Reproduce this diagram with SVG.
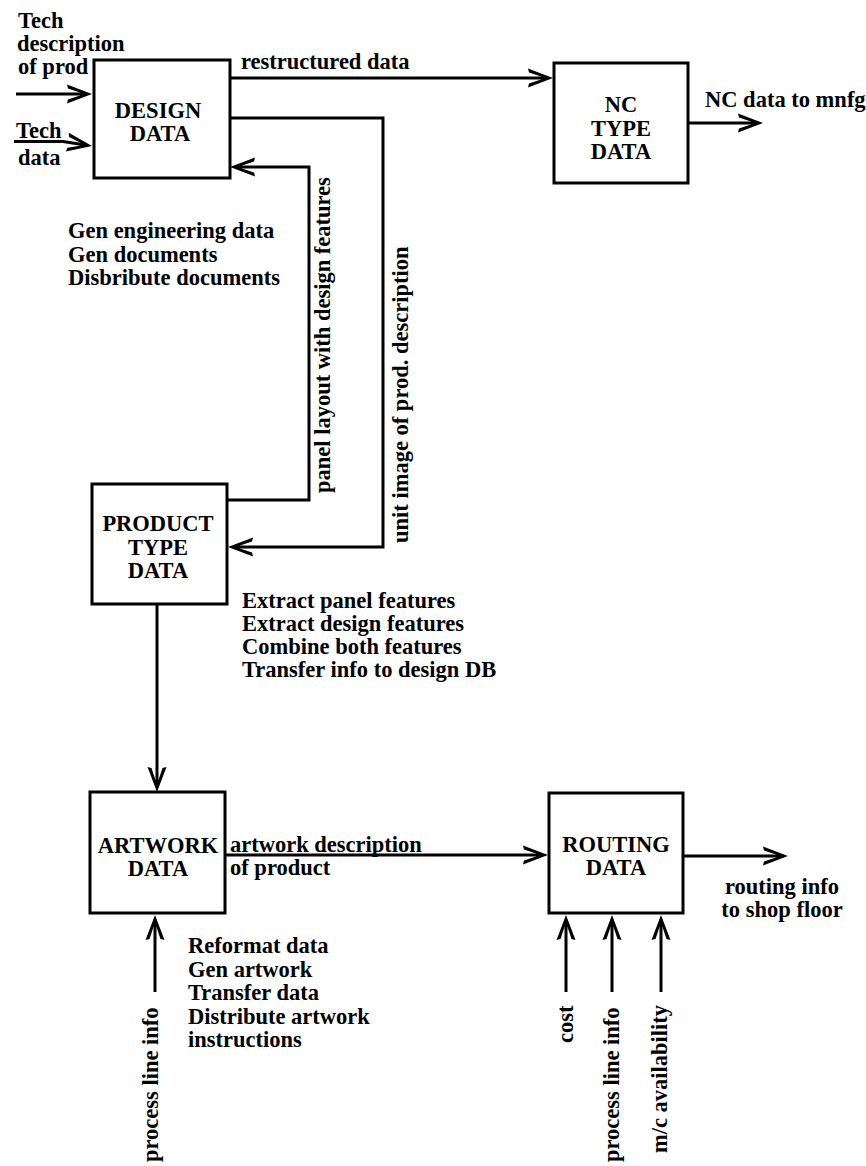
<svg xmlns="http://www.w3.org/2000/svg" width="866" height="1166" viewBox="0 0 866 1166">
<style>
text{font-family:"Liberation Serif","Times New Roman",serif;font-weight:bold;font-size:22.5px;fill:#000}
.c{text-anchor:middle}
.box{fill:#fff;stroke:#000;stroke-width:3}
.ln{fill:none;stroke:#000;stroke-width:3}
</style>
<defs>
<marker id="ah" viewBox="-36 -11 37 22" refX="-10" refY="0" markerWidth="37" markerHeight="22" markerUnits="userSpaceOnUse" orient="auto">
<path d="M0,0 L-25,-9.5 L-24,-5.5 L-12,-1.5 L-12,1.5 L-24,5.5 L-25,9.5 Z" fill="#000"/>
</marker>
</defs>
<rect width="866" height="1166" fill="#fff"/>
<g id="connectors">
<path class="ln" marker-end="url(#ah)" d="M16,94 L82,94"/>
<path class="ln" marker-end="url(#ah)" d="M14,141.5 L63,141.5 L82.1,144.5"/>
<path class="ln" marker-end="url(#ah)" d="M230,78 L543,78"/>
<path class="ln" marker-end="url(#ah)" d="M688,123 L753,123"/>
<path class="ln" marker-end="url(#ah)" d="M230,118 L383,118 L383,547 L238,547"/>
<path class="ln" marker-end="url(#ah)" d="M227,500 L309,500 L309,167 L240,167"/>
<path class="ln" marker-end="url(#ah)" d="M157,604 L157,782"/>
<path class="ln" marker-end="url(#ah)" d="M225,855 L538,855"/>
<path class="ln" marker-end="url(#ah)" d="M683,856 L778,856"/>
<path class="ln" marker-end="url(#ah)" d="M155,992 L155,925"/>
<path class="ln" marker-end="url(#ah)" d="M566,992 L566,925"/>
<path class="ln" marker-end="url(#ah)" d="M612,992 L612,925"/>
<path class="ln" marker-end="url(#ah)" d="M661,992 L661,925"/>
<text x="18" y="28">Tech</text>
<text x="17" y="51">description</text>
<text x="18" y="74">of prod</text>
<text x="16" y="138">Tech</text>
<text x="18" y="165">data</text>
<text x="241" y="69">restructured data</text>
<text x="705" y="107">NC data to mnfg</text>
<text transform="translate(330,493) rotate(-90)">panel layout with design features</text>
<text transform="translate(408,543) rotate(-90)">unit image of prod. description</text>
<text x="230" y="852">artwork description</text>
<text x="230" y="875">of product</text>
<text class="c" x="782" y="894">routing info</text>
<text class="c" x="782" y="917">to shop floor</text>
<text transform="translate(158,1162) rotate(-90)">process line info</text>
<text transform="translate(573,1043) rotate(-90)">cost</text>
<text transform="translate(619,1162) rotate(-90)">process line info</text>
<text transform="translate(667,1153) rotate(-90)">m/c availability</text>
</g>
<g id="design">
<rect class="box" x="94" y="60" width="136" height="118"/>
<text class="c" x="158" y="118">DESIGN</text>
<text class="c" x="160" y="141">DATA</text>
<text x="68" y="238">Gen engineering data</text>
<text x="68" y="261.5">Gen documents</text>
<text x="68" y="285">Disbribute documents</text>
</g>
<g id="nc">
<rect class="box" x="554" y="63" width="134" height="120"/>
<text class="c" x="621" y="112">NC</text>
<text class="c" x="621" y="135.5">TYPE</text>
<text class="c" x="621" y="159">DATA</text>
</g>
<g id="product">
<rect class="box" x="92" y="484" width="135" height="120"/>
<text class="c" x="158" y="531">PRODUCT</text>
<text class="c" x="158" y="554.5">TYPE</text>
<text class="c" x="158" y="578">DATA</text>
<text x="242" y="608">Extract panel features</text>
<text x="242" y="631">Extract design features</text>
<text x="242" y="654">Combine both features</text>
<text x="242" y="677">Transfer info to design DB</text>
</g>
<g id="artwork">
<rect class="box" x="90" y="792" width="135" height="121"/>
<text class="c" x="158" y="853">ARTWORK</text>
<text class="c" x="158" y="876">DATA</text>
<text x="188" y="953">Reformat data</text>
<text x="188" y="976.5">Gen artwork</text>
<text x="188" y="1000">Transfer data</text>
<text x="188" y="1023.5">Distribute artwork</text>
<text x="188" y="1047">instructions</text>
</g>
<g id="routing">
<rect class="box" x="549" y="793" width="134" height="120"/>
<text class="c" x="616" y="852">ROUTING</text>
<text class="c" x="616" y="875">DATA</text>
</g>
</svg>
